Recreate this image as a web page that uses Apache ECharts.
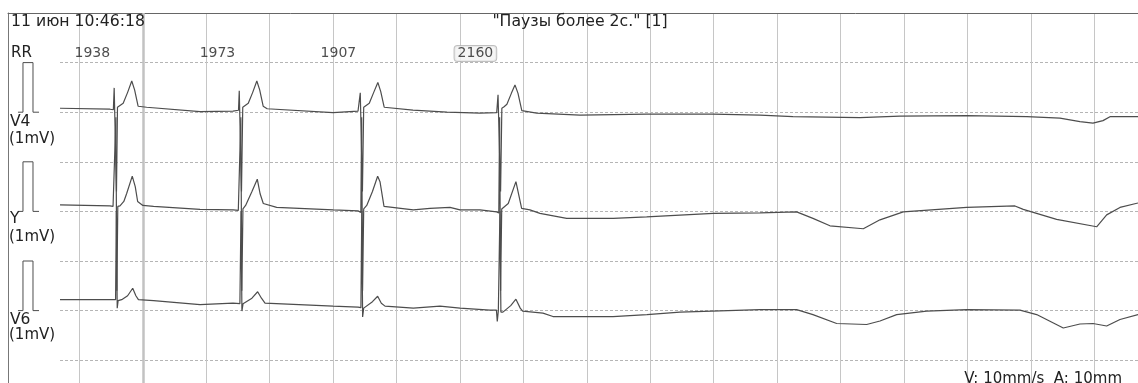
<!DOCTYPE html>
<html><head><meta charset="utf-8">
<script src="https://cdn.jsdelivr.net/npm/echarts@6/dist/echarts.min.js"></script>
<style>html,body{margin:0;padding:0;background:#fff}#c{width:1138px;height:383px}</style>
</head><body><div id="c"></div>
<script>
// ---- texts ----
const headerText = '11 июн 10:46:18';
const titleText = '"Паузы более 2с." [1]';
const scaleText = 'V: 10mm/s  A: 10mm';
const rrTitle = 'RR';
const leadNames = ['V4', 'Y', 'V6'];
const leadUnit = '(1mV)';

// ---- data (time in ms, amplitude in mV) ----
const beatTimes = [550, 2523, 4430, 6590];
const rrValues = [1938, 1973, 1907, 2160];
const markerTimes = [1000];
const calPulse = [[-969,0],[-890,0],[-890,1],[-732,1],[-732,0],[-637,0]];

const leadV4 = [[-306,0.08],[482,0.06],[535,0.05],[548,0.49],[584,-1.6],[600,0.1],[620,0.12],[690,0.18],[760,0.4],[825,0.63],[870,0.45],[925,0.12],[1060,0.1],[1901,0.01],[2421,0.02],[2508,0.04],
[2520,0.43],[2555,-1.6],[2575,0.1],[2595,0.12],[2662,0.18],[2732,0.4],[2797,0.63],[2842,0.45],[2897,0.12],[2960,0.07],[3998,-0.01],[4392,0.02],[4418,0.02],
[4428,0.39],[4462,-1.6],[4482,0.1],[4502,0.12],[4570,0.18],[4640,0.4],[4705,0.6],[4750,0.42],[4805,0.1],[5259,0.04],[5795,0],[6315,-0.02],[6579,-0.01],
[6600,0.35],[6640,-1.6],[6660,0.08],[6695,0.11],[6740,0.16],[6810,0.38],[6867,0.55],[6915,0.38],[6975,0.03],[7209,-0.02],[7892,-0.06],[8943,-0.04],[9989,-0.04],[10730,-0.06],[11250,-0.09],[12306,-0.11],[12937,-0.08],[13993,-0.07],[14939,-0.09],[15459,-0.12],[15775,-0.19],[15980,-0.22],[16138,-0.17],[16248,-0.09],[16690,-0.09]];

const leadY = [[-306,0.13],[482,0.11],[530,0.1],[560,0.06],[575,1.9],[590,-1.6],[605,0.1],[639,0.11],[700,0.2],[745,0.36],[833,0.71],[880,0.5],[918,0.2],[1000,0.12],[1169,0.1],[1901,0.04],[2426,0.03],[2505,0.02],[2530,0],[2545,1.9],[2560,-1.6],[2578,0.05],[2620,0.12],[2720,0.4],[2804,0.65],[2850,0.35],[2899,0.16],[3110,0.08],[4002,0.03],[4392,0.01],[4437,-0.02],[4450,1.9],[4464,-1.6],[4482,0.05],[4530,0.12],[4620,0.4],[4702,0.71],[4739,0.6],[4802,0.1],[5264,0.03],[5527,0.06],[5842,0.08],[6000,0.03],[6315,0.03],[6579,-0.01],[6612,-0.03],[6625,1.9],[6640,-1.6],[6658,0.05],[6761,0.16],[6882,0.6],[6972,0.06],[7103,0.03],[7261,-0.04],[7682,-0.14],[8417,-0.14],[8943,-0.11],[9994,-0.04],[10730,-0.03],[11308,-0.01],[11565,-0.14],[11833,-0.29],[12359,-0.35],[12622,-0.17],[12989,-0.01],[13989,0.08],[14750,0.11],[14881,0.04],[15407,-0.16],[16038,-0.31],[16196,-0.07],[16406,0.08],[16690,0.17]];

const leadV6 = [[-306,0.22],[482,0.22],[570,0.22],[582,2.0],[596,0.05],[610,0.2],[666,0.22],[760,0.3],[840,0.45],[890,0.3],[930,0.22],[1169,0.2],[1901,0.12],[2421,0.15],[2530,0.14],[2548,2.0],[2562,-0.01],[2580,0.14],[2610,0.13],[2720,0.25],[2810,0.38],[2870,0.25],[2926,0.15],[3998,0.09],[4392,0.07],[4438,0.06],[4452,2.0],[4465,-0.13],[4482,0.05],[4502,0.07],[4620,0.18],[4702,0.29],[4760,0.15],[4818,0.09],[5264,0.05],[5685,0.09],[6000,0.05],[6473,0.01],[6575,0.01],[6588,-0.22],[6605,0.0],[6630,2.0],[6645,-0.03],[6677,-0.03],[6800,0.1],[6882,0.23],[6950,0.05],[6988,-0.01],[7308,-0.05],[7466,-0.12],[8412,-0.12],[8948,-0.08],[9468,-0.03],[10730,0.02],[11308,0.02],[11565,-0.08],[11939,-0.26],[12412,-0.28],[12622,-0.21],[12885,-0.08],[13358,-0.01],[13989,0.02],[14829,0.01],[15092,-0.08],[15512,-0.35],[15775,-0.27],[15980,-0.26],[16196,-0.31],[16406,-0.18],[16690,-0.08]];

const leads = [leadV4, leadY, leadV6];

// ---- layout / style ----
const T_MIN = -1000, T_MAX = 16690, T_STEP = 1000;
const TOP = 13, SQ = 49.6;
const FONT = '"DejaVu Sans", sans-serif';
const TXT = '#222';
const TRACE = '#4d4d4d';

const chart = echarts.init(document.getElementById('c'), null, {renderer: 'canvas'});

const hidden = {show: false};
const noAxis = {axisLine: hidden, axisTick: hidden, axisLabel: hidden, splitLine: hidden};

const grids = [
  {left: 8, top: TOP, right: 0, bottom: 0},            // 0 frame
  {left: 16, top: TOP, right: 0, bottom: 0},           // 1 vertical second lines
  {left: 60, top: TOP, right: 0, bottom: 0},           // 2 horizontal dashed lines
];
leads.forEach((l, i) => grids.push({left: 16, right: 0, top: TOP + SQ * (1 + 2 * i), height: SQ * 2}));
grids.push({left: 16, right: 0, top: 46, height: 15}); // 6 RR row

const xAxes = [
  Object.assign({gridIndex: 0, type: 'value', position: 'top', min: 0, max: 1}, noAxis,
    {axisLine: {show: true, onZero: false, lineStyle: {color: '#666', width: 1}}}),
  Object.assign({gridIndex: 1, type: 'value', min: T_MIN, max: T_MAX, interval: T_STEP}, noAxis,
    {splitLine: {show: true, showMinLine: false, showMaxLine: false, lineStyle: {color: '#c6c6c6', width: 1}}}),
  Object.assign({gridIndex: 2, type: 'value', min: 0, max: 1}, noAxis),
];
const yAxes = [
  Object.assign({gridIndex: 0, type: 'value', position: 'left', min: 0, max: 1}, noAxis,
    {axisLine: {show: true, onZero: false, lineStyle: {color: '#777', width: 1}}}),
  Object.assign({gridIndex: 1, type: 'value', min: 0, max: 1}, noAxis),
  Object.assign({gridIndex: 2, type: 'value', min: 0, max: (383 - TOP) / SQ, interval: 1, inverse: true}, noAxis,
    {splitLine: {show: true, showMinLine: false, showMaxLine: false, lineStyle: {color: '#b5b5b5', width: 1, type: [3, 2]}}}),
];
leads.forEach((l, i) => {
  xAxes.push(Object.assign({gridIndex: 3 + i, type: 'value', min: T_MIN, max: T_MAX}, noAxis));
  yAxes.push(Object.assign({gridIndex: 3 + i, type: 'value', min: -1, max: 1}, noAxis));
});
xAxes.push(Object.assign({gridIndex: 6, type: 'value', min: T_MIN, max: T_MAX}, noAxis));
yAxes.push(Object.assign({gridIndex: 6, type: 'value', min: -1, max: 1}, noAxis));

const series = [
  {type: 'line', xAxisIndex: 1, yAxisIndex: 1, data: [], silent: true,
   markLine: {symbol: 'none', silent: true, label: {show: false},
     lineStyle: {color: '#c2c2c2', width: 2.5, type: 'solid'},
     data: markerTimes.map(t => ({xAxis: t}))}},
];
leads.forEach((l, i) => {
  series.push({type: 'line', xAxisIndex: 3 + i, yAxisIndex: 3 + i, data: calPulse, showSymbol: false, symbol: 'none',
    clip: false, silent: true, lineStyle: {color: TRACE, width: 1}, z: 5});
  series.push({type: 'line', xAxisIndex: 3 + i, yAxisIndex: 3 + i, data: l, showSymbol: false, symbol: 'none',
    clip: false, silent: true, lineStyle: {color: TRACE, width: 1.2}, z: 5});
});
series.push({type: 'scatter', xAxisIndex: 6, yAxisIndex: 6, symbolSize: 1, itemStyle: {color: 'rgba(0,0,0,0)'}, silent: true,
  data: beatTimes.map((t, i) => {
    const pause = rrValues[i] > 2000;
    return {value: [t, 0], name: String(rrValues[i]),
      label: pause ? {borderColor: '#b0b0b0', borderWidth: 1, borderRadius: 3, padding: [1, 3, 0, 3], backgroundColor: '#f2f2f2'} : {}};
  }),
  label: {show: true, position: 'inside', offset: [-22, 0], formatter: p => p.name, color: TXT, fontFamily: FONT, fontSize: 14},
  z: 6});

const graphic = [];
function txt(text, x, y, size, align) {
  graphic.push({type: 'text', silent: true, z: 10,
    style: {text, x, y, fill: TXT, font: size + 'px ' + FONT, align: align || 'left', verticalAlign: 'middle'}});
}
txt(headerText, 11, 22, 15.7);
txt(titleText, 580, 22, 15.7, 'center');
txt(rrTitle, 11, 53, 15);
const nameY = [122, 218.5, 320];
const unitY = [139.5, 237.5, 335.5];
leadNames.forEach((n, i) => { txt(n, 10, nameY[i], 15.5); txt(leadUnit, 9, unitY[i], 15); });
txt(scaleText, 1122, 379, 15, 'right');

chart.setOption({
  animation: false,
  backgroundColor: '#fff',
  grid: grids, xAxis: xAxes, yAxis: yAxes, series, graphic
});
</script></body></html>
